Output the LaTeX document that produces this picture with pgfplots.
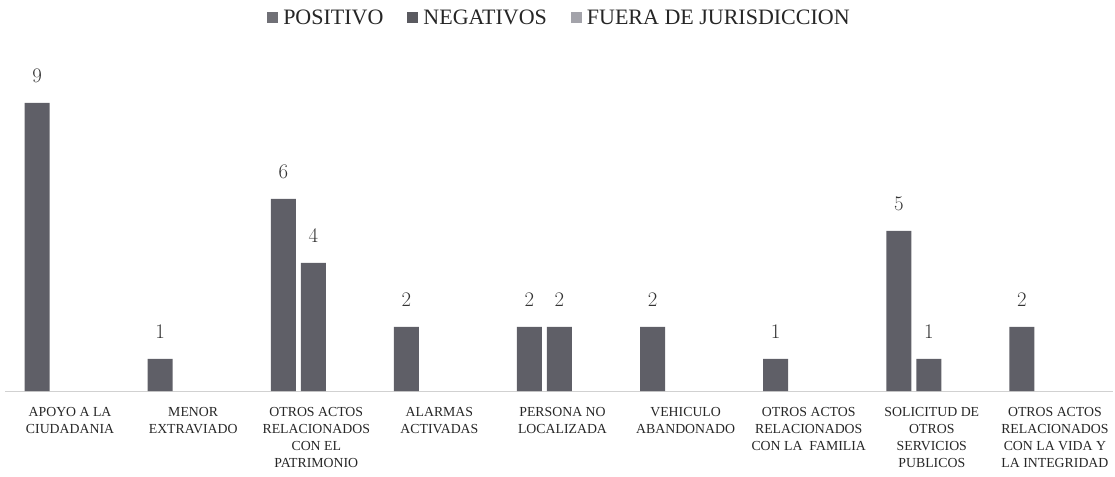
\documentclass[border=0pt]{standalone}
\usepackage{pgfplots}
\pgfplotsset{compat=1.18}
\usepackage{fontspec}
\setmainfont{Liberation Serif}
\definecolor{barc}{HTML}{5F5F67}
\definecolor{posc}{HTML}{707076}
\definecolor{negc}{HTML}{5A5A60}
\definecolor{fuec}{HTML}{A3A3AA}
\begin{document}
\begin{tikzpicture}
\begin{axis}[
  scale only axis,
  width=1108pt, height=320pt,
  xmin=-0.5, xmax=8.5,
  ymin=0, ymax=10,
  ybar, bar width=25pt,
  axis y line=none,
  axis x line*=bottom,
  x axis line style={draw=black!18, line width=0.8pt, -},
  xtick={0,...,8},
  xtick style={draw=none},
  xticklabels={{APOYO A LA\\CIUDADANIA},{MENOR\\EXTRAVIADO},{OTROS ACTOS\\RELACIONADOS\\CON EL\\PATRIMONIO},{ALARMAS\\ACTIVADAS},{PERSONA NO\\LOCALIZADA},{VEHICULO\\ABANDONADO},{OTROS ACTOS\\RELACIONADOS\\CON LA\ \ FAMILIA},{SOLICITUD DE\\OTROS\\SERVICIOS\\PUBLICOS},{OTROS ACTOS\\RELACIONADOS\\CON LA VIDA Y\\LA INTEGRIDAD}},
  xticklabel style={align=center, font=\fontsize{13.8pt}{17pt}\selectfont, text=black!85, anchor=north, yshift=-9pt, xshift=3pt},
  nodes near coords,
  nodes near coords style={font=\fontsize{21pt}{24pt}\selectfont, text=black!80, anchor=south, inner sep=0pt, yshift=20pt},
  legend style={at={(0.5,1.166)}, anchor=center, draw=none, legend columns=3, font=\fontsize{22pt}{25pt}\selectfont, text=black!85,
    /tikz/every even column/.append style={column sep=22pt},
    /tikz/every odd column/.append style={column sep=3pt}},
  legend image code/.code={\fill[#1] (-2pt,-5pt) rectangle (9pt,6pt);},
]
\addlegendimage{fill=posc, draw=none}
\addlegendentry{POSITIVO}
\addlegendimage{fill=negc, draw=none}
\addlegendentry{NEGATIVOS}
\addlegendimage{fill=fuec, draw=none}
\addlegendentry{FUERA DE JURISDICCION}
\addplot[bar shift=-30pt, fill=barc, draw=none, forget plot]
  coordinates {(0,9) (1,1) (2,6) (3,2) (4,2) (5,2) (6,1) (7,5) (8,2)};
\addplot[bar shift=0pt, fill=barc, draw=none, forget plot]
  coordinates {(2,4) (4,2) (7,1)};
\end{axis}
\pgfresetboundingbox
\path[use as bounding box] (-5.5pt,-85pt) rectangle (1109.5pt,391pt);
\end{tikzpicture}
\end{document}
